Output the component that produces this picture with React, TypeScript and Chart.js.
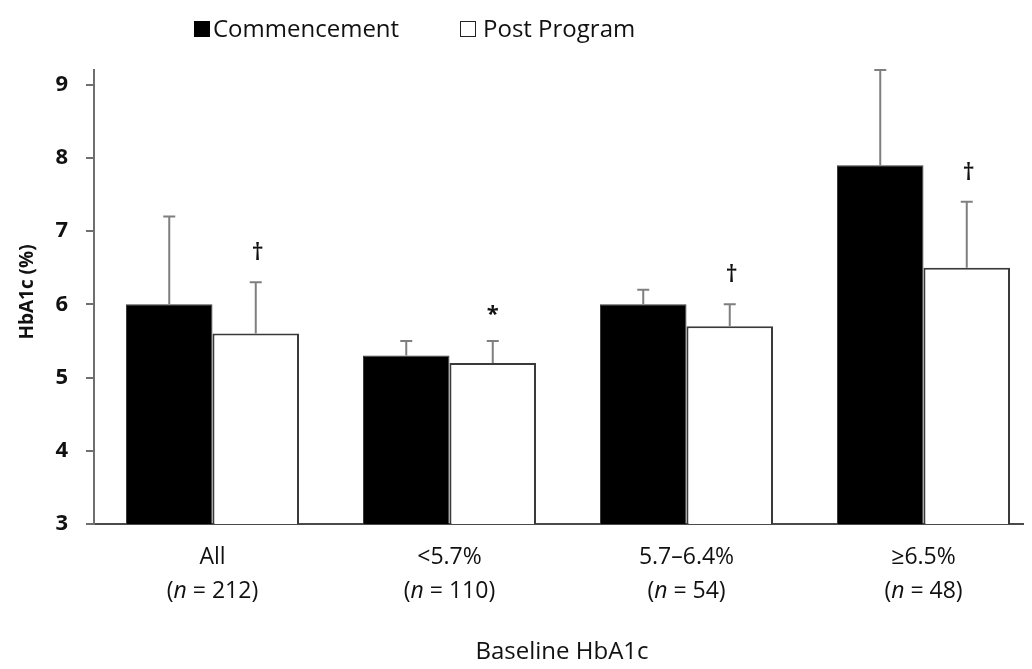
import React, { useEffect, useRef } from "react";
import { Chart, registerables } from "chart.js";

Chart.register(...registerables);

const categories = ["All", "<5.7%", "5.7–6.4%", "≥6.5%"];
const sampleSizes = ["212", "110", "54", "48"];
const commencement = [6.0, 5.3, 6.0, 7.9];
const commencementSD = [1.2, 0.2, 0.2, 1.3];
const postProgram = [5.6, 5.2, 5.7, 6.5];
const postProgramSD = [0.7, 0.3, 0.3, 0.9];
const significance = ["†", "*", "†", "†"];
const yTicks = [3, 4, 5, 6, 7, 8, 9];
const yMin = 3;
const yMax = 9.2;
const seriesNames = ["Commencement", "Post Program"];
const xTitle = "Baseline HbA1c";
const yTitle = "HbA1c (%)";

const FONT = "'Open Sans', 'Noto Sans', sans-serif";
const TEXT = "#111111";

const sdArrays = [commencementSD, postProgramSD];

const overlayPlugin = {
  id: "overlay",
  afterDatasetsDraw(chart: any) {
    const { ctx, chartArea, scales } = chart;
    const yScale = scales.y;
    const xScale = scales.x;
    // error bars
    ctx.save();
    ctx.strokeStyle = "#7f7f7f";
    ctx.lineWidth = 2;
    chart.data.datasets.forEach((ds: any, di: number) => {
      const meta = chart.getDatasetMeta(di);
      meta.data.forEach((bar: any, i: number) => {
        const v = ds.data[i];
        const top = yScale.getPixelForValue(v + sdArrays[di][i]);
        const base = yScale.getPixelForValue(v);
        ctx.beginPath();
        ctx.moveTo(bar.x, base);
        ctx.lineTo(bar.x, top);
        ctx.moveTo(bar.x - 6, top);
        ctx.lineTo(bar.x + 6, top);
        ctx.stroke();
      });
    });
    // significance markers
    const meta1 = chart.getDatasetMeta(1);
    ctx.fillStyle = TEXT;
    ctx.textAlign = "center";
    ctx.textBaseline = "alphabetic";
    meta1.data.forEach((bar: any, i: number) => {
      const top = yScale.getPixelForValue(postProgram[i] + postProgramSD[i]);
      const s = significance[i];
      if (s === "*") {
        ctx.font = `bold 22px ${FONT}`;
        ctx.fillText(s, bar.x, top - 20);
      } else {
        ctx.font = `600 24px ${FONT}`;
        ctx.fillText(s, bar.x + 2, top - 22);
      }
    });
    ctx.restore();

    // x category labels
    ctx.save();
    ctx.fillStyle = TEXT;
    ctx.textBaseline = "alphabetic";
    categories.forEach((c, i) => {
      const x = xScale.getPixelForValue(i);
      ctx.font = `500 23px ${FONT}`;
      ctx.textAlign = "center";
      ctx.fillText(c, x, chartArea.bottom + 40);
      const parts = [
        { t: "(", f: `500 23px ${FONT}` },
        { t: "n", f: `italic 500 23px ${FONT}` },
        { t: " = " + sampleSizes[i] + ")", f: `500 23px ${FONT}` },
      ];
      let total = 0;
      parts.forEach((p) => {
        ctx.font = p.f;
        total += ctx.measureText(p.t).width;
      });
      let cx = x - total / 2;
      ctx.textAlign = "left";
      parts.forEach((p) => {
        ctx.font = p.f;
        ctx.fillText(p.t, cx, chartArea.bottom + 74);
        cx += ctx.measureText(p.t).width;
      });
    });
    // x title
    ctx.font = `500 24px ${FONT}`;
    ctx.textAlign = "center";
    ctx.fillText(xTitle, (chartArea.left + chartArea.right) / 2 - 6, chartArea.bottom + 135);
    // y title
    ctx.translate(20, 284);
    ctx.rotate(-Math.PI / 2);
    ctx.font = `bold 19px ${FONT}`;
    ctx.textBaseline = "middle";
    ctx.fillText(yTitle, 0, 0);
    ctx.restore();
  },
};

export default function App() {
  const canvasRef = useRef<HTMLCanvasElement | null>(null);

  useEffect(() => {
    if (!canvasRef.current) return;
    const chart = new Chart(canvasRef.current, {
      type: "bar",
      data: {
        labels: categories,
        datasets: [
          {
            label: seriesNames[0],
            data: commencement,
            backgroundColor: "#000000",
            borderColor: "#3a3a3a",
            borderWidth: 1,
            categoryPercentage: 0.73,
            barPercentage: 1,
          },
          {
            label: seriesNames[1],
            data: postProgram,
            backgroundColor: "#ffffff",
            borderColor: "#3a3a3a",
            borderWidth: 2,
            categoryPercentage: 0.73,
            barPercentage: 1,
          },
        ],
      },
      options: {
        animation: false,
        responsive: false,
        maintainAspectRatio: false,
        layout: { padding: { top: 62, right: 26, left: 0, bottom: 0 } },
        plugins: {
          legend: { display: false },
          tooltip: { enabled: false },
        },
        scales: {
          x: {
            type: "category",
            offset: true,
            grid: { display: true, drawOnChartArea: false, drawTicks: false },
            border: { display: true, color: "#4a4a4a", width: 2 },
            ticks: { display: false },
            afterFit: (s: any) => {
              s.height = 137;
            },
          },
          y: {
            min: yMin,
            max: yMax,
            afterBuildTicks: (axis: any) => {
              axis.ticks = yTicks.map((v) => ({ value: v }));
            },
            ticks: {
              font: { family: FONT, size: 22, weight: "bold" },
              color: TEXT,
              padding: 18,
            },
            grid: {
              drawOnChartArea: false,
              drawTicks: true,
              tickLength: 8,
              color: "#6f6f6f",
              lineWidth: 2,
            },
            border: { display: true, color: "#6f6f6f", width: 2 },
            afterFit: (s: any) => {
              s.width = 86;
            },
          },
        },
      },
      plugins: [overlayPlugin],
    } as any);
    return () => chart.destroy();
  }, []);

  const legendText: React.CSSProperties = {
    position: "absolute",
    fontFamily: FONT,
    fontSize: 24,
    fontWeight: 500,
    color: TEXT,
    lineHeight: "30px",
    top: 5,
    whiteSpace: "nowrap",
  };

  return (
    <div style={{ position: "relative", width: 1024, height: 653, overflow: "hidden" }}>
      <canvas ref={canvasRef} width={1060} height={653} style={{ position: "absolute", left: 0, top: 0 }} />
      <div style={{ position: "absolute", left: 186, top: 13, width: 16, height: 16, background: "#000" }} />
      <div style={{ ...legendText, left: 205 }}>{seriesNames[0]}</div>
      <div
        style={{
          position: "absolute",
          left: 452,
          top: 13,
          width: 14,
          height: 14,
          background: "#fff",
          border: "1px solid #222",
        }}
      />
      <div style={{ ...legendText, left: 475 }}>{seriesNames[1]}</div>
    </div>
  );
}
